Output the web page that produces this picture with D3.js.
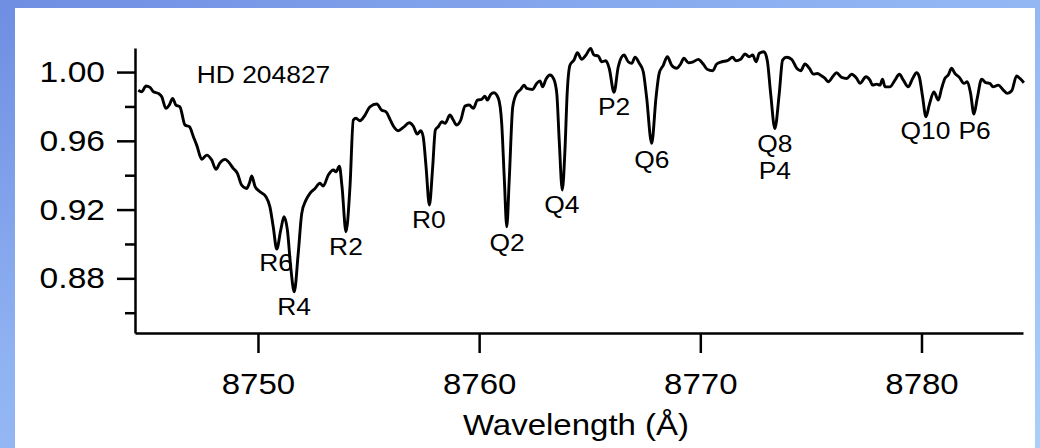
<!DOCTYPE html>
<html>
<head>
<meta charset="utf-8">
<script src="https://cdn.jsdelivr.net/npm/d3@7"></script>
<style>
  body { margin: 0; background: #fff; }
  svg text { font-family: "Liberation Sans", Arial, sans-serif; fill: #000; }
  .wide { transform-box: fill-box; transform-origin: center; transform: scaleX(1.1); }
  .wideRight { transform-box: fill-box; transform-origin: right center; transform: scaleX(1.12); }
</style>
</head>
<body>
<svg id="chart" width="1040" height="448"></svg>
<script>
// spectrum of HD 204827
const wavelength = [
  8744.59, 8744.74, 8744.94, 8745.12, 8745.27, 8745.49, 8745.65, 8745.84, 8745.99, 8746.14,
  8746.29, 8746.47, 8746.70, 8746.90, 8747.08, 8747.23, 8747.46, 8747.68, 8747.91, 8748.10,
  8748.28, 8748.51, 8748.66, 8748.88, 8749.07, 8749.26, 8749.49, 8749.61, 8749.72, 8749.87,
  8750.09, 8750.36, 8750.54, 8750.69, 8750.85, 8751.03, 8751.18, 8751.33, 8751.48, 8751.64,
  8751.82, 8751.98, 8752.17, 8752.35, 8752.58, 8752.80, 8752.95, 8753.18, 8753.41, 8753.53,
  8753.68, 8753.80, 8753.98, 8754.16, 8754.31, 8754.43, 8754.61, 8754.84, 8755.06, 8755.37,
  8755.59, 8755.79, 8755.97, 8756.12, 8756.34, 8756.57, 8756.84, 8757.02, 8757.20, 8757.36,
  8757.47, 8757.60, 8757.75, 8757.90, 8758.02, 8758.15, 8758.31, 8758.46, 8758.68, 8758.83,
  8758.98, 8759.17, 8759.36, 8759.55, 8759.74, 8759.92, 8760.11, 8760.26, 8760.37, 8760.52,
  8760.67, 8760.87, 8761.02, 8761.14, 8761.25, 8761.36, 8761.52, 8761.70, 8761.88, 8762.03,
  8762.15, 8762.42, 8762.60, 8762.75, 8762.87, 8763.02, 8763.20, 8763.38, 8763.51, 8763.62,
  8763.76, 8763.88, 8763.98, 8764.11, 8764.29, 8764.44, 8764.64, 8764.83, 8765.04, 8765.19,
  8765.39, 8765.54, 8765.73, 8765.88, 8766.10, 8766.29, 8766.55, 8766.74, 8766.90, 8767.05,
  8767.24, 8767.42, 8767.57, 8767.80, 8768.00, 8768.14, 8768.33, 8768.51, 8768.70, 8768.93,
  8769.11, 8769.26, 8769.46, 8769.68, 8769.91, 8770.13, 8770.31, 8770.56, 8770.74, 8770.97,
  8771.22, 8771.46, 8771.61, 8771.82, 8772.02, 8772.21, 8772.37, 8772.52, 8772.67, 8772.88,
  8773.03, 8773.18, 8773.37, 8773.57, 8773.72, 8773.90, 8774.13, 8774.36, 8774.54, 8774.73,
  8774.93, 8775.11, 8775.29, 8775.49, 8775.64, 8775.78, 8776.01, 8776.16, 8776.39, 8776.62,
  8776.84, 8777.07, 8777.22, 8777.49, 8777.67, 8777.79, 8777.97, 8778.12, 8778.24, 8778.35,
  8778.57, 8778.80, 8779.00, 8779.18, 8779.40, 8779.60, 8779.78, 8779.90, 8780.05, 8780.20,
  8780.35, 8780.56, 8780.76, 8780.91, 8781.06, 8781.21, 8781.36, 8781.51, 8781.71, 8781.92,
  8782.07, 8782.22, 8782.37, 8782.52, 8782.72, 8782.91, 8783.09, 8783.24, 8783.47, 8783.70,
  8783.88, 8784.08, 8784.30, 8784.45, 8784.63
];
const flux = [
  0.9895, 0.9885, 0.9919, 0.9911, 0.9885, 0.9876, 0.9856, 0.9789, 0.9808, 0.9847,
  0.9808, 0.9798, 0.9692, 0.9682, 0.9624, 0.9575, 0.9492, 0.9517, 0.9488, 0.9434,
  0.9472, 0.9492, 0.9478, 0.9440, 0.9411, 0.9343, 0.9323, 0.9353, 0.9395, 0.9333,
  0.9304, 0.9275, 0.9216, 0.9100, 0.8970, 0.9081, 0.9158, 0.9081, 0.8867, 0.8722,
  0.8945, 0.9178, 0.9255, 0.9294, 0.9323, 0.9353, 0.9337, 0.9401, 0.9430, 0.9420,
  0.9453, 0.9333, 0.9071, 0.9333, 0.9721, 0.9731, 0.9717, 0.9750, 0.9798, 0.9814,
  0.9779, 0.9769, 0.9725, 0.9686, 0.9659, 0.9678, 0.9705, 0.9686, 0.9639, 0.9659,
  0.9624, 0.9449, 0.9226, 0.9449, 0.9663, 0.9682, 0.9711, 0.9702, 0.9750, 0.9721,
  0.9692, 0.9721, 0.9802, 0.9808, 0.9789, 0.9837, 0.9841, 0.9860, 0.9837, 0.9870,
  0.9880, 0.9847, 0.9702, 0.9372, 0.9100, 0.9372, 0.9798, 0.9876, 0.9899, 0.9924,
  0.9905, 0.9899, 0.9934, 0.9949, 0.9914, 0.9958, 0.9983, 0.9958, 0.9876, 0.9604,
  0.9314, 0.9546, 0.9876, 1.0041, 1.0070, 1.0112, 1.0074, 1.0099, 1.0138, 1.0099,
  1.0093, 1.0060, 1.0066, 1.0022, 0.9882, 1.0031, 1.0099, 1.0060, 1.0051, 1.0086,
  1.0051, 1.0002, 0.9856, 0.9585, 0.9856, 0.9992, 1.0041, 1.0089, 1.0041, 1.0022,
  1.0047, 1.0080, 1.0054, 1.0060, 1.0074, 1.0047, 1.0016, 1.0008, 1.0047, 1.0060,
  1.0066, 1.0086, 1.0066, 1.0074, 1.0105, 1.0089, 1.0099, 1.0060, 1.0109, 1.0118,
  1.0066, 0.9876, 0.9672, 0.9876, 1.0070, 1.0086, 1.0074, 1.0022, 1.0008, 1.0047,
  1.0022, 0.9988, 0.9992, 0.9977, 0.9963, 0.9944, 0.9977, 0.9996, 0.9969, 0.9963,
  0.9987, 0.9963, 0.9934, 0.9973, 0.9953, 0.9924, 0.9930, 0.9924, 0.9958, 0.9914,
  0.9914, 0.9953, 0.9987, 0.9953, 0.9914, 0.9963, 0.9996, 0.9973, 0.9856, 0.9740,
  0.9808, 0.9885, 0.9837, 0.9905, 0.9963, 0.9983, 1.0022, 0.9992, 0.9969, 0.9934,
  0.9944, 0.9876, 0.9756, 0.9847, 0.9958, 0.9938, 0.9934, 0.9914, 0.9924, 0.9895,
  0.9876, 0.9891, 0.9977, 0.9963, 0.9938
];

// line identifications: label, wavelength and flux where the text sits
const lineNames = ["R6", "R4", "R2", "R0", "Q2", "Q4", "P2", "Q6", "Q8", "P4", "Q10", "P6"];
const lineWave  = [8750.82, 8751.63, 8753.98, 8757.73, 8761.26, 8763.74, 8766.10, 8767.81, 8773.37, 8773.37, 8780.18, 8782.40];
const lineFlux  = [0.8842, 0.8584, 0.8935, 0.9091, 0.8960, 0.9178, 0.9750, 0.9443, 0.9536, 0.9378, 0.9610, 0.9610];

const starName = "HD 204827";
const xTicks = [8750, 8760, 8770, 8780];
const yTicks = [0.88, 0.92, 0.96, 1.00];
const yMinorTicks = [0.86, 0.90, 0.94, 0.98];

const svg = d3.select("#chart");

// slide background
const defs = svg.append("defs");
const grad = defs.append("linearGradient")
    .attr("id", "bg")
    .attr("x1", "0").attr("y1", "0").attr("x2", "1").attr("y2", "1");
grad.append("stop").attr("offset", "0%").attr("stop-color", "#6f8de2");
grad.append("stop").attr("offset", "40%").attr("stop-color", "#8fb2f2");
grad.append("stop").attr("offset", "100%").attr("stop-color", "#a9cffa");

svg.append("rect").attr("width", 1040).attr("height", 448).attr("fill", "url(#bg)");
svg.append("rect")
    .attr("x", 15).attr("y", 8)
    .attr("width", 1020).attr("height", 440)
    .attr("fill", "#fff");

const x = d3.scaleLinear().domain([8744.44, 8784.59]).range([135, 1023]);
const y = d3.scaleLinear().domain([0.8482, 1.014]).range([333, 48]);

// y axis, major then minor ticks
const yAxis = svg.append("g")
    .attr("transform", "translate(135,0)")
    .call(d3.axisLeft(y).tickValues(yTicks).tickFormat(d3.format(".2f"))
        .tickSize(18).tickSizeOuter(0).tickPadding(12));
svg.append("g")
    .attr("transform", "translate(135,0)")
    .call(d3.axisLeft(y).tickValues(yMinorTicks).tickFormat("")
        .tickSize(10).tickSizeOuter(0))
    .select(".domain").remove();

const xAxis = svg.append("g")
    .attr("transform", "translate(0,333)")
    .call(d3.axisBottom(x).tickValues(xTicks).tickFormat(d3.format("d"))
        .tickSize(20).tickSizeOuter(0).tickPadding(20));

svg.selectAll(".domain, .tick line")
    .attr("stroke", "#000")
    .attr("stroke-width", 2.5);

yAxis.selectAll("text")
    .attr("font-size", 30)
    .attr("class", "wideRight");
xAxis.selectAll("text")
    .attr("font-size", 30)
    .attr("class", "wide");

svg.append("text")
    .attr("class", "wide")
    .attr("x", 576)
    .attr("y", 435)
    .attr("text-anchor", "middle")
    .attr("font-size", 30)
    .text("Wavelength (Å)");

// spectrum
const points = wavelength.map((w, i) => [w, flux[i]]);
const line = d3.line()
    .x(d => x(d[0]))
    .y(d => y(d[1]))
    .curve(d3.curveMonotoneX);

svg.append("path")
    .datum(points)
    .attr("d", line)
    .attr("fill", "none")
    .attr("stroke", "#000")
    .attr("stroke-width", 2.9)
    .attr("stroke-linejoin", "round");

svg.append("text")
    .attr("class", "wide")
    .attr("x", x(8750.25))
    .attr("y", y(0.9936))
    .attr("text-anchor", "middle")
    .attr("font-size", 24)
    .text(starName);

svg.selectAll(".lineLabel")
    .data(lineNames)
    .enter()
    .append("text")
    .attr("class", "lineLabel wide")
    .attr("x", (d, i) => x(lineWave[i]))
    .attr("y", (d, i) => y(lineFlux[i]))
    .attr("text-anchor", "middle")
    .attr("font-size", 24)
    .text(d => d);
</script>
</body>
</html>
